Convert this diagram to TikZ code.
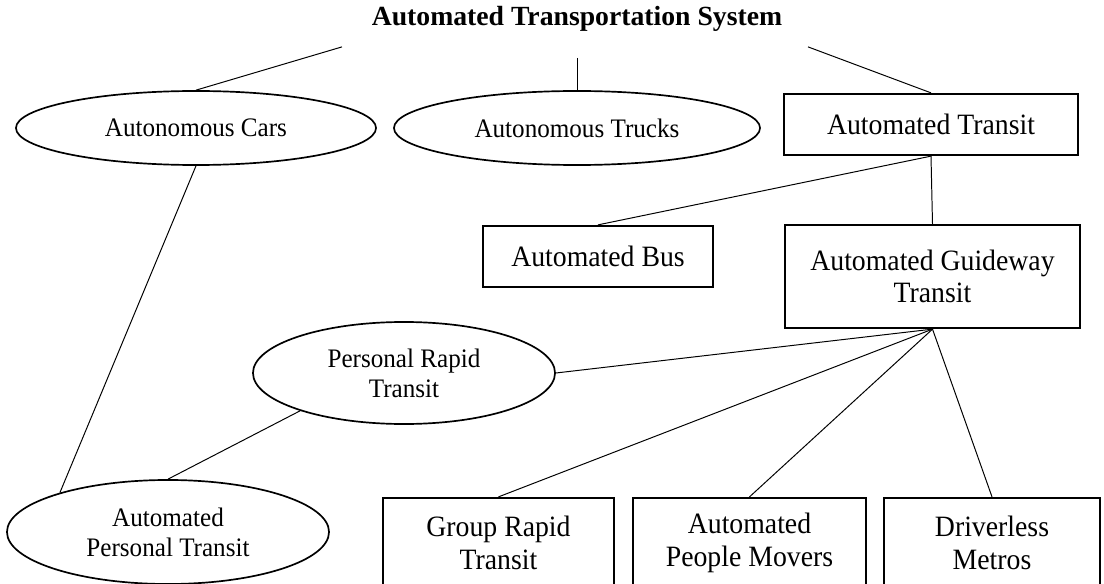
\documentclass[tikz,border=0pt]{standalone}
\usepackage{fontspec}
\setmainfont{Liberation Serif}[FakeStretch=0.94]
\newfontfamily\headfont{Liberation Serif}
\usetikzlibrary{shapes.geometric, positioning, calc}

\begin{document}
\begin{tikzpicture}[
    x=0.025cm, y=-0.025cm,
    heading/.style={font=\headfont\fontsize{19.7}{23}\selectfont\bfseries, inner sep=0pt},
    oval/.style={
        ellipse, draw=black, line width=1.2pt, inner sep=0pt,
        align=center, font=\fontsize{19}{21.5}\selectfont
    },
    box/.style={
        rectangle, draw=black, line width=1.6pt, inner sep=0pt,
        align=center, font=\fontsize{21}{23}\selectfont
    },
    link/.style={draw=black, line width=0.7pt},
]
\useasboundingbox (0,0) rectangle (1104,584);
\clip (0,0) rectangle (1104,584);

% Root
\node[heading] (ats) at (577,19) {Automated Transportation System};

% First level
\node[oval, minimum width=9cm, minimum height=1.85cm] (cars) at (196,128) {Autonomous Cars};
\node[oval, minimum width=9.15cm, minimum height=1.85cm] (trucks) at (577,128) {Autonomous Trucks};
\node[box, minimum width=7.35cm, minimum height=1.525cm] (transit) at (931,124.5) {Automated Transit};

% Automated transit branch
\node[box, minimum width=5.75cm, minimum height=1.525cm] (bus) at (598,256.5) {Automated Bus};
\node[box, minimum width=7.375cm, minimum height=2.575cm] (agt) at (932.5,276.5) {Automated Guideway\\Transit};

% Guideway systems
\node[oval, minimum width=7.55cm, minimum height=2.55cm] (prt) at (404,373) {Personal Rapid\\Transit};
\node[oval, minimum width=8.05cm, minimum height=2.6cm] (apt) at (168,532) {Automated\\Personal Transit};
\node[box, minimum width=5.775cm, minimum height=2.25cm] (grt) at (498.5,543) {Group Rapid\\Transit};
\node[box, minimum width=5.825cm, minimum height=2.25cm] (apm) at (749.5,543) {Automated\\People Movers};
\node[box, minimum width=5.4cm, minimum height=2.25cm] (metros) at (992,543) {Driverless\\Metros};

% Connectors
\draw[link] ($(ats.south)+(-235,15)$) -- (cars.north);
\draw[link] ($(ats.south)+(0,26)$) -- (trucks.north);
\draw[link] ($(ats.south)+(231,15)$) -- (transit.north);
\draw[link] (transit.south) -- (bus.north);
\draw[link] (transit.south) -- (agt.north);
\draw[link] (agt.south) -- (prt.east);
\draw[link] (agt.south) -- (grt.north);
\draw[link] (agt.south) -- (apm.north);
\draw[link] (agt.south) -- (metros.north);
\draw[link] (cars.south) -- (apt.160);
\draw[link] (prt.200) -- (apt.north);

\end{tikzpicture}
\end{document}
